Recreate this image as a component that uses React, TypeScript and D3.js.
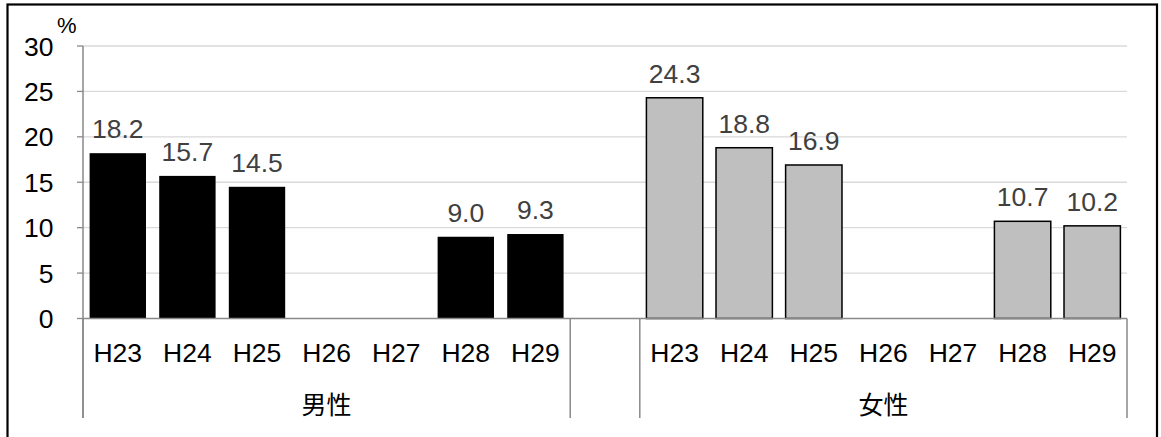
import React from "react";
import * as d3 from "d3";

const years = ["H23", "H24", "H25", "H26", "H27", "H28", "H29"];
const groups = ["男性", "女性"];
const maleValues: (number | null)[] = [18.2, 15.7, 14.5, null, null, 9.0, 9.3];
const femaleValues: (number | null)[] = [24.3, 18.8, 16.9, null, null, 10.7, 10.2];
const yTicks = [0, 5, 10, 15, 20, 25, 30];

const W = 1161;
const H = 437;
const left = 83;
const right = 1127;
const top = 46;
const bottom = 318.5;
const axisBottom = 418;

const FONT = "'Liberation Sans', Arial, sans-serif";
const CJK = "'Noto Sans CJK JP', 'Noto Sans CJK SC', sans-serif";
const FS = 26.5;

export default function App() {
  const keys = [
    ...years.map((y) => `m-${y}`),
    "gap",
    ...years.map((y) => `f-${y}`),
  ];
  const x = d3
    .scaleBand<string>()
    .domain(keys)
    .range([left, right])
    .paddingInner(0.19)
    .paddingOuter(0.095);
  const step = x.step();
  const y = d3.scaleLinear().domain([0, 30]).range([bottom, top]);

  const series = [
    { prefix: "m", values: maleValues, fill: "#000000", stroke: "none" },
    { prefix: "f", values: femaleValues, fill: "#bfbfbf", stroke: "#000000" },
  ];

  const slotStart = (k: string) => (x(k) as number) - step * 0.095;

  const groupBounds = [
    [slotStart("m-H23"), slotStart("gap")],
    [slotStart("f-H23"), right],
  ];
  const separators = [left, slotStart("gap"), slotStart("f-H23"), right];

  return (
    <svg
      width={W}
      height={H}
      style={{ position: "absolute", left: 0, top: 0, background: "#fff" }}
    >
      <rect x={0} y={0} width={W} height={H} fill="#fff" />
      {yTicks.slice(1).map((t) => (
        <line
          key={t}
          x1={left}
          x2={right}
          y1={y(t)}
          y2={y(t)}
          stroke="#d9d9d9"
          strokeWidth={1.3}
        />
      ))}
      {series.map((s) =>
        s.values.map((v, i) =>
          v == null ? null : (
            <rect
              key={`${s.prefix}-${i}`}
              x={x(`${s.prefix}-${years[i]}`) as number}
              y={y(v)}
              width={x.bandwidth()}
              height={y(0) - y(v)}
              fill={s.fill}
              stroke={s.stroke}
              strokeWidth={1.5}
            />
          )
        )
      )}
      {series.map((s) =>
        s.values.map((v, i) =>
          v == null ? null : (
            <text
              key={`l-${s.prefix}-${i}`}
              x={(x(`${s.prefix}-${years[i]}`) as number) + x.bandwidth() / 2}
              y={y(v) - 15}
              textAnchor="middle"
              fontFamily={FONT}
              fontSize={FS}
              fill="#404040"
            >
              {v.toFixed(1)}
            </text>
          )
        )
      )}
      <line x1={left} x2={right} y1={bottom} y2={bottom} stroke="#898989" strokeWidth={1.5} />
      <line x1={left} x2={left} y1={top} y2={axisBottom} stroke="#898989" strokeWidth={1.5} />
      {separators.map((sx, i) => (
        <line key={i} x1={sx} x2={sx} y1={bottom} y2={axisBottom} stroke="#898989" strokeWidth={1.5} />
      ))}
      {yTicks.map((t) => (
        <g key={t}>
          <line x1={left - 6} x2={left} y1={y(t)} y2={y(t)} stroke="#898989" strokeWidth={1.3} />
          <text
            x={53.5}
            y={y(t)}
            dy="0.36em"
            textAnchor="end"
            fontFamily={FONT}
            fontSize={FS}
            fill="#000"
          >
            {t}
          </text>
        </g>
      ))}
      <text x={57} y={33} fontFamily={FONT} fontSize={22} fill="#000">
        %
      </text>
      {series.map((s) =>
        years.map((yr) => (
          <text
            key={`c-${s.prefix}-${yr}`}
            x={(x(`${s.prefix}-${yr}`) as number) + x.bandwidth() / 2}
            y={362}
            textAnchor="middle"
            fontFamily={FONT}
            fontSize={FS}
            fill="#000"
          >
            {yr}
          </text>
        ))
      )}
      {groups.map((g, i) => (
        <text
          key={g}
          x={(groupBounds[i][0] + groupBounds[i][1]) / 2}
          y={414}
          textAnchor="middle"
          fontFamily={CJK}
          fontSize={25}
          fill="#000"
        >
          {g}
        </text>
      ))}
      <rect x={7.5} y={4.5} width={1149.5} height={H} fill="none" stroke="#000" strokeWidth={2.2} />
    </svg>
  );
}
